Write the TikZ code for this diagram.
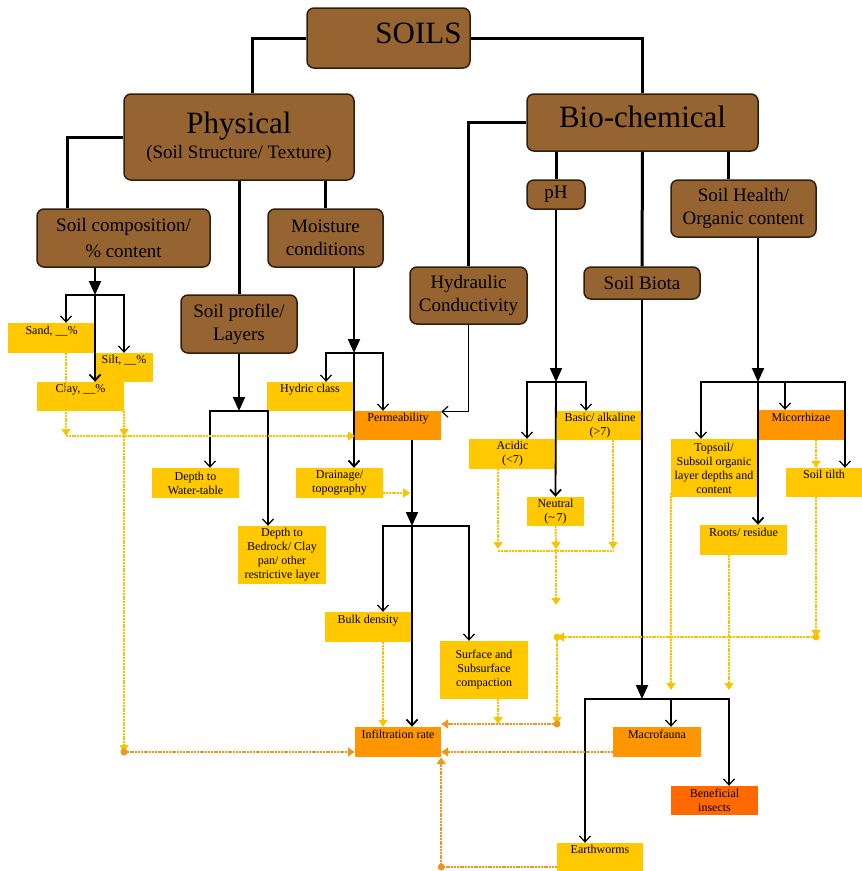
\documentclass[tikz,border=0pt]{standalone}
\usepackage{fontspec}
\setmainfont{Liberation Serif}
\usetikzlibrary{arrows.meta,calc}
\definecolor{brownbox}{RGB}{150,100,48}
\definecolor{brownedge}{RGB}{50,30,15}
\definecolor{yfill}{RGB}{255,200,0}
\definecolor{ofill}{RGB}{255,150,0}
\definecolor{rfill}{RGB}{255,105,0}
\definecolor{yline}{RGB}{250,195,0}
\definecolor{oline}{RGB}{240,150,30}
\begin{document}
\begin{tikzpicture}[x=1pt,y=-1pt,
 bnode/.style={draw=brownedge, line width=1.5pt, fill=brownbox, rounded corners=7pt, inner sep=0pt, align=center, font=\fontsize{19}{23}\selectfont, text=black},
 ynode/.style={fill=yfill, inner sep=0pt, align=center, font=\fontsize{12}{14}\selectfont, text=black},
 onode/.style={ynode, fill=ofill},
 rnode/.style={ynode, fill=rfill},
 oneline/.style={text height=9pt, text depth=17pt},
 thickc/.style={line width=3pt},
 midc/.style={line width=2pt, -{Triangle[length=14pt,width=12pt]}},
 thinc/.style={line width=1.2pt, -{Straight Barb[length=6pt,width=11pt]}},
 contc/.style={line width=1.8pt, -{Straight Barb[length=6pt,width=11pt]}},
 dotc/.style={yline, line width=2pt, dash pattern=on 2pt off 0.8pt, -{Triangle[length=7pt,width=9pt]}},
 odotc/.style={dotc, oline},
 jdot/.style={circle, fill=oline, inner sep=0pt, minimum size=7pt},
]
\useasboundingbox (0,0) rectangle (862,871);

% ---------- brown nodes ----------
\node[bnode, minimum width=163pt, minimum height=60pt, font=\fontsize{31}{34}\selectfont, text depth=9pt] (soils) at (388.5,38) {\hspace*{60pt}SOILS};
\node[bnode, minimum width=230pt, minimum height=86pt] (phys) at (239,137) {{\fontsize{31}{31}\selectfont Physical}\\[2pt]{\fontsize{19}{22}\selectfont (Soil Structure/ Texture)}};
\node[bnode, minimum width=231pt, minimum height=57pt, font=\fontsize{31}{34}\selectfont, text depth=12pt] (bio) at (642.5,122.5) {Bio-chemical};
\node[bnode, minimum width=173pt, minimum height=58pt, font=\fontsize{19}{26}\selectfont] (comp) at (123.5,238) {Soil composition/\\\% content};
\node[bnode, minimum width=115pt, minimum height=58pt] (moist) at (325.5,238) {Moisture\\conditions};
\node[bnode, minimum width=116pt, minimum height=58pt] (prof) at (239,324) {Soil profile/\\Layers};
\node[bnode, minimum width=58pt, minimum height=29pt] (ph) at (556,194.5) {pH};
\node[bnode, minimum width=145pt, minimum height=57pt] (health) at (743.5,208.5) {Soil Health/\\Organic content};
\node[bnode, minimum width=117pt, minimum height=57pt] (hydr) at (468.5,295.5) {Hydraulic\\Conductivity};
\node[bnode, minimum width=116pt, minimum height=32pt] (biota) at (642,283) {Soil Biota};

% ---------- yellow / orange nodes ----------
\node[ynode, oneline, minimum width=87pt, minimum height=30pt] (sand) at (51.5,338) {Sand, \_\_\%};
\node[ynode, oneline, minimum width=58pt, minimum height=29pt] (silt) at (124,367.5) {Silt, \_\_\%};
\node[ynode, oneline, minimum width=87pt, minimum height=29pt] (clay) at (80.5,396.5) {Clay, \_\_\%};
\node[ynode, oneline, minimum width=86pt, minimum height=29pt] (hydric) at (310,396.5) {Hydric class};
\node[onode, oneline, minimum width=86pt, minimum height=29pt] (perm) at (398,425.5) {Permeability};
\node[ynode, minimum width=87pt, minimum height=30pt] (water) at (195.5,483) {Depth to\\Water-table};
\node[ynode, minimum width=88pt, minimum height=58pt] (bedrock) at (282,555) {Depth to\\Bedrock/ Clay\\pan/ other\\restrictive layer};
\node[ynode, minimum width=87pt, minimum height=30pt] (drain) at (339.5,483) {Drainage/\\topography};
\node[ynode, minimum width=86pt, minimum height=29pt] (basic) at (600,425.5) {Basic/ alkaline\\(>7)};
\node[ynode, minimum width=87pt, minimum height=30pt] (acidic) at (512.5,454) {Acidic\\(<7)};
\node[ynode, minimum width=57pt, minimum height=29pt] (neutral) at (555.5,511.5) {Neutral\\(\textasciitilde\,7)};
\node[onode, oneline, minimum width=86pt, minimum height=30pt] (micor) at (801,425) {Micorrhizae};
\node[ynode, minimum width=86pt, minimum height=58pt] (topsoil) at (714,468) {Topsoil/\\Subsoil organic\\layer depths and\\content};
\node[ynode, oneline, minimum width=76pt, minimum height=29pt] (tilth) at (824,482.5) {Soil tilth};
\node[ynode, oneline, minimum width=87pt, minimum height=30pt] (roots) at (743.5,540) {Roots/ residue};
\node[ynode, oneline, minimum width=86pt, minimum height=30pt] (bulk) at (368,627) {Bulk density};
\node[ynode, minimum width=88pt, minimum height=58pt] (surf) at (484,670) {Surface and\\Subsurface\\compaction};
\node[onode, oneline, minimum width=86pt, minimum height=30pt] (infil) at (398,742) {Infiltration rate};
\node[onode, oneline, minimum width=88pt, minimum height=30pt] (macro) at (657,742) {Macrofauna};
\node[rnode, minimum width=87pt, minimum height=29pt] (benef) at (714.5,800.5) {Beneficial\\insects};
\node[ynode, oneline, minimum width=86pt, minimum height=29pt] (earth) at (600,857.5) {Earthworms};

% ---------- thick black connectors ----------
\coordinate (pN) at ([xshift=13pt]phys.north);
\coordinate (cN) at ([xshift=-56.5pt]comp.north);
\coordinate (hN) at ([xshift=-15.5pt]health.north);
\draw[thickc] (soils.west) -| (pN);
\draw[thickc] (soils.east) -| (bio.north);
\draw[thickc] (phys.west) -| (cN);
\draw[thickc] (phys.south) -- (prof.north);
\draw[thickc] (moist.north |- phys.south) -- (moist.north);
\draw[thickc] (bio.west) -| (hydr.north);
\draw[thickc] (ph.north |- bio.south) -- (ph.north);
\draw[thickc] (bio.south) -- (biota.north);
\draw[thickc] (hN |- bio.south) -- (hN);

% ---------- branch buses ----------
\coordinate (b1) at (95,295);
\draw[midc] ([xshift=-28.5pt]comp.south) -- (b1);
\draw[thinc] (b1) -| ([xshift=14.5pt]sand.north);
\draw[thinc] (b1) -| (silt.north);
\draw[contc] (b1) -- ([xshift=14.5pt]clay.north);

\coordinate (b2) at (239,411);
\draw[midc] (prof.south) -- (b2);
\draw[thinc] (b2) -| ([xshift=14.5pt]water.north);
\draw[thinc] (b2) -| ([xshift=-14pt]bedrock.north);

\coordinate (b3) at (354,353);
\draw[midc] ([xshift=28.5pt]moist.south) -- (b3);
\draw[thinc] (b3) -| ([xshift=16pt]hydric.north);
\draw[thinc] (b3) -| ([xshift=-15pt]perm.north);
\draw[contc] (b3) -- ([xshift=14.5pt]drain.north);

\draw[thinc] (hydr.south) |- ([yshift=-1pt]perm.north east);

\coordinate (b4) at (412,526);
\draw[midc] ([xshift=14pt]perm.south) -- (b4);
\draw[thinc] (b4) -| ([xshift=15pt]bulk.north);
\draw[thinc] (b4) -| ([xshift=-15pt]surf.north);
\draw[contc] (b4) -- ([xshift=14pt]infil.north);

\coordinate (b5) at (556,382);
\draw[midc] (ph.south) -- (b5);
\draw[thinc] (b5) -| ([xshift=14.5pt]acidic.north);
\draw[thinc] (b5) -| ([xshift=-14pt]basic.north);
\draw[contc] (b5) -- (neutral.north);

\coordinate (b6) at (758,382);
\draw[midc] ([xshift=14.5pt]health.south) -- (b6);
\draw[thinc] (b6) -| ([xshift=-13pt]topsoil.north);
\draw[thinc] (b6) -| ([xshift=-16pt]micor.north);
\draw[thinc] (b6) -| ([xshift=21pt]tilth.north);
\draw[contc] (b6) -- ([xshift=14.5pt]roots.north);

\coordinate (b7) at (642,699);
\draw[midc] (biota.south) -- (b7);
\draw[thinc] (b7) -| ([xshift=-15pt]earth.north);
\draw[thinc] (b7) -| ([xshift=14pt]macro.north);
\draw[thinc] (b7) -| ([xshift=14.5pt]benef.north);

% ---------- dotted influence connectors ----------
\coordinate (d1) at (66,436);
\coordinate (d2) at (124,436);
\coordinate (d3) at (124,752);
\draw[dotc] ([xshift=14.5pt]sand.south) -- (d1);
\draw[dotc] (clay.south east) -- (d2);
\draw[dotc] (d1) -- (d1 -| perm.west);
\draw[dotc] (d2) -- (d3);
\draw[odotc] (d3) -- (d3 -| infil.west);
\node[jdot] (j1) at (d3) {};

\draw[dotc] ([yshift=-10pt]drain.east) -- ++(27,0);

\draw[dotc] ([xshift=15pt]bulk.south) -- ([xshift=-15pt]infil.north);
\coordinate (d4) at (498,724);
\draw[dotc] ([xshift=14pt]surf.south) -- (d4);
\coordinate (d5) at (557,724);
\coordinate (d6) at (557,637);
\coordinate (d7) at (816,637);
\draw[odotc] (d5) -- (d5 -| infil.east);
\draw[dotc] (d6) -- (d5);
\node[jdot] (j2) at (d5) {};
\draw[dotc] (d7) -- (d6);
\node[jdot, fill=yline] (j3) at (d6) {};
\draw[dotc] ([xshift=-8pt]tilth.south) -- (d7);
\node[jdot, fill=yline] (j4) at (d7) {};
\draw[dotc] ([xshift=15pt]micor.south) -- ([xshift=-8pt]tilth.north);

\coordinate (p1) at (498,549);
\coordinate (p2) at (556,549);
\coordinate (p3) at (613,549);
\coordinate (p4) at (556,605);
\draw[dotc] ([xshift=-14.5pt]acidic.south) -- (p1);
\draw[dotc] ([xshift=13pt]basic.south) -- (p3);
\draw[dotc] (neutral.south) -- (p2);
\draw[yline, line width=1.2pt, dash pattern=on 2pt off 0.8pt] ([yshift=-2pt]p1) -- ([yshift=-2pt]p3);
\draw[dotc] (p2) -- (p4);

\coordinate (t1) at (671,690);
\coordinate (t2) at (729,690);
\draw[dotc] ([yshift=4pt]topsoil.south west) -- (t1);
\draw[dotc] ([xshift=-14.5pt]roots.south) -- (t2);

\coordinate (m1) at ([yshift=-10pt]macro.west);
\draw[odotc] (m1) -- (m1 -| infil.east);
\coordinate (e1) at ([yshift=-9.5pt]earth.west);
\draw[odotc] (e1) -- (e1 -| infil.east) -- (infil.south east);
\node[jdot] (j5) at (e1 -| infil.east) {};
\end{tikzpicture}
\end{document}
